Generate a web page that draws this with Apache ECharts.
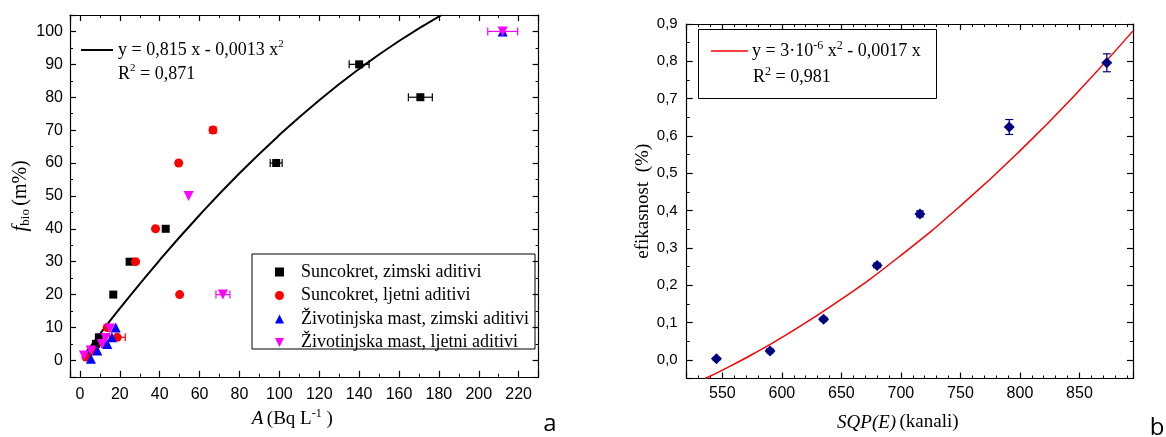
<!DOCTYPE html>
<html>
<head>
<meta charset="utf-8">
<script src="https://cdn.jsdelivr.net/npm/echarts@6/dist/echarts.min.js"></script>
<style>html,body{margin:0;padding:0;background:#fff;}#c{width:1166px;height:437px;}</style>
</head>
<body>
<div id="c"></div>
<script>
// ---------- DATA ----------
// Chart a: A (Bq/L) vs f_bio (m%)
const suncokretZimski = [[4,1.5],[6,3],[8,5],[9.5,7],[16.7,20],[24.9,30],[43,40],[98.4,60],[140,90],[170.7,80]];
const suncokretLjetni = [[3,1],[7,3],[12,5],[18.7,7],[13.7,10],[27.9,30],[37.9,40],[50,20],[49.5,60],[66.7,70]];
const zivotinjskaZimski = [[5.5,0.5],[8.7,3],[13.7,5],[16,7],[17.9,10],[212,100]];
const zivotinjskaLjetni = [[2,1.5],[5.4,3],[11,5],[12.8,6.8],[15,9.7],[54.5,50],[71.7,20],[212,100]];
// horizontal error bars [x, y, halfWidth]
const errSuncokretZimski = [[140,90,5],[170.7,80,6],[98.4,60,3]];
const errSuncokretLjetni = [[18.7,7,4],[66.7,70,1.5]];
const errZivotinjskaLjetni = [[212,100,7.5],[71.7,20,3.5]];
// fitted curve
const fitCurveA = [[3,2.4],[10,8.0],[20,15.8],[40,30.5],[60,44.2],[80,56.9],[100,68.5],[120,79.1],[140,88.6],[160,97.1],[181,104.9]];
const seriesNamesA = ['Suncokret, zimski aditivi','Suncokret, ljetni aditivi','Životinjska mast, zimski aditivi','Životinjska mast, ljetni aditivi'];

// Chart b: SQP(E) vs efikasnost
const sqpE = [545,590,635,680,716,791,873];
const efikasnost = [0.003,0.024,0.109,0.253,0.391,0.624,0.796];
const efikasnostErr = [0.003,0.005,0.005,0.006,0.008,0.02,0.024];
const fitCurveB = [[535.5,-0.05],[550,-0.0275],[575,0.0144],[600,0.06],[650,0.1625],[700,0.28],[750,0.4125],[800,0.56],[850,0.7225],[895,0.8816]];

// ---------- CHART ----------
const chart = echarts.init(document.getElementById('c'), null, {renderer:'canvas'});
const sans = 'Liberation Sans, Arial, sans-serif';
const serif = 'Liberation Serif, Times New Roman, serif';

function near(v, step){ const r = Math.round(v/step); return Math.abs(v/step - r) < 1e-6; }

function axisSet(type, grid, pos, min, max, major, minor, fmt, extra){
  const base = {type:'value', gridIndex:grid, position:pos, min:min, max:max, splitLine:{show:false}, scale:true};
  const maj = Object.assign({}, base, {
    splitNumber: Math.round((max-min)/major), minInterval: major, maxInterval: major,
    axisLine:{show:true, onZero:false, lineStyle:{color:'#000', width:1.2}},
    axisTick:{show:true, inside:true, length:6, lineStyle:{color:'#000', width:1.2}},
    axisLabel:{show: !!fmt, formatter: fmt, color:'#000', fontFamily:sans, fontSize:16, margin: 8}
  }, extra || {});
  const mnr = Object.assign({}, base, {
    splitNumber: Math.round((max-min)/minor), minInterval: minor, maxInterval: minor,
    axisLine:{show:false, onZero:false},
    axisTick:{show:true, inside:true, length:3, lineStyle:{color:'#000', width:1}},
    axisLabel:{show:false}
  });
  return [maj, mnr];
}

const fmtAx = v => (near(v,20) && v>=0 && v<=220) ? String(Math.round(v)) : '';
const fmtAy = v => (near(v,10) && v>=0 && v<=100) ? String(Math.round(v)) : '';
const fmtBx = v => (near(v,50) && v>=550 && v<=850) ? String(Math.round(v)) : '';
const fmtBy = v => { if(!near(v,0.1)) return ''; const r=Math.round(v*10); if(r<0) return ''; return (r/10).toFixed(1).replace('.',','); };

const xAxes = [].concat(
  axisSet('x',0,'bottom',-5,230,20,10,fmtAx,{axisLabel:{show:true,formatter:fmtAx,color:'#000',fontFamily:sans,fontSize:16,margin:10},
     name:'{i|A} {n|(Bq L}{s|-1}{n| )}', nameLocation:'middle', nameGap:28,
     nameTextStyle:{padding:[0,24,0,0], rich:{i:{fontFamily:serif,fontStyle:'italic',fontSize:19,lineHeight:22},n:{fontFamily:serif,fontSize:19,lineHeight:22},s:{fontFamily:serif,fontSize:12,verticalAlign:'top',lineHeight:12}}}}),
  axisSet('x',0,'top',-5,230,20,10,null),
  axisSet('x',1,'bottom',520,895,50,10,fmtBx,{axisLabel:{show:true,formatter:fmtBx,color:'#000',fontFamily:sans,fontSize:16,margin:7},
     name:'{i|SQP(E)} {n|(kanali)}', nameLocation:'middle', nameGap:33,
     nameTextStyle:{padding:[0,24,0,0], rich:{i:{fontFamily:serif,fontStyle:'italic',fontSize:19,lineHeight:22},n:{fontFamily:serif,fontSize:19,lineHeight:22}}}}),
  axisSet('x',1,'top',520,895,50,10,null)
);
const yAxes = [].concat(
  axisSet('y',0,'left',-5,105,10,5,fmtAy,{axisLabel:{show:true,formatter:fmtAy,color:'#000',fontFamily:sans,fontSize:16,margin:7},
     name:'{i|f}{s|bio} {n|(m%)}', nameLocation:'middle', nameGap:27, nameRotate:90,
     nameTextStyle:{rich:{i:{fontFamily:serif,fontStyle:'italic',fontSize:21,lineHeight:24},n:{fontFamily:serif,fontSize:20,lineHeight:24},s:{fontFamily:serif,fontSize:13,verticalAlign:'bottom',lineHeight:13}}}}),
  axisSet('y',0,'right',-5,105,10,5,null),
  axisSet('y',1,'left',-0.05,0.9,0.1,0.05,fmtBy,{axisLabel:{show:true,formatter:fmtBy,color:'#000',fontFamily:sans,fontSize:15,margin:9},
     name:'efikasnost  (%)', nameLocation:'middle', nameGap:27, nameRotate:90,
     nameTextStyle:{fontFamily:serif,fontSize:19,color:'#000'}}),
  axisSet('y',1,'right',-0.05,0.9,0.1,0.05,null)
);

function hErrSeries(data, color){
  return {type:'custom', xAxisIndex:0, yAxisIndex:0, data:data, z:3, silent:true,
    encode:{x:0,y:1},
    renderItem:function(params, api){
      const x=api.value(0), y=api.value(1), e=api.value(2);
      const p1=api.coord([x-e,y]), p2=api.coord([x+e,y]);
      const st={stroke:color, lineWidth:1.2};
      return {type:'group', children:[
        {type:'line', shape:{x1:p1[0],y1:p1[1],x2:p2[0],y2:p2[1]}, style:st},
        {type:'line', shape:{x1:p1[0],y1:p1[1]-4,x2:p1[0],y2:p1[1]+4}, style:st},
        {type:'line', shape:{x1:p2[0],y1:p2[1]-4,x2:p2[0],y2:p2[1]+4}, style:st}
      ]};
    }};
}

const effData = sqpE.map((x,i)=>[x, efikasnost[i]]);
const effErrData = sqpE.map((x,i)=>[x, efikasnost[i], efikasnostErr[i]]);

const option = {
  backgroundColor:'#fff',
  animation:false,
  grid:[
    {left:70, right:1166-538.6, top:15, bottom:437-376.8},
    {left:686.7, right:1166-1133, top:24, bottom:437-380.7}
  ],
  xAxis: xAxes,
  yAxis: yAxes,
  legend:{
    data: [
      {name:seriesNamesA[0], icon:'rect', itemStyle:{color:'#000'}},
      {name:seriesNamesA[1], icon:'circle', itemStyle:{color:'#ff0000'}},
      {name:seriesNamesA[2], icon:'path://M5,0L10,10L0,10Z', itemStyle:{color:'#0000ff'}},
      {name:seriesNamesA[3], icon:'path://M0,0L10,0L5,10Z', itemStyle:{color:'#ff00ff'}}
    ],
    orient:'vertical', left:270, top:258, itemWidth:9, itemHeight:9, itemGap:5.5,
    textStyle:{fontFamily:serif, fontSize:18, lineHeight:17, color:'#000', padding:[0,0,0,12]},
    selectedMode:false
  },
  series:[
    {type:'line', name:'fitA', data:fitCurveA, xAxisIndex:0, yAxisIndex:0, smooth:true, showSymbol:false, symbol:'none',
      lineStyle:{color:'#000', width:2}, z:2, clip:true},
    hErrSeries(errSuncokretZimski,'#000'),
    hErrSeries(errSuncokretLjetni,'#ff0000'),
    hErrSeries(errZivotinjskaLjetni,'#ff00ff'),
    {type:'scatter', name:seriesNamesA[0], data:suncokretZimski, xAxisIndex:0, yAxisIndex:0, symbol:'rect', symbolSize:8, itemStyle:{color:'#000', opacity:1}, z:4},
    {type:'scatter', name:seriesNamesA[1], data:suncokretLjetni, xAxisIndex:0, yAxisIndex:0, symbol:'circle', symbolSize:9, itemStyle:{color:'#ff0000', opacity:1}, z:4},
    {type:'scatter', name:seriesNamesA[2], data:zivotinjskaZimski, xAxisIndex:0, yAxisIndex:0, symbol:'triangle', symbolSize:10, itemStyle:{color:'#0000ff', opacity:1}, z:4},
    {type:'scatter', name:seriesNamesA[3], data:zivotinjskaLjetni, xAxisIndex:0, yAxisIndex:0, symbol:'triangle', symbolRotate:180, symbolSize:10, itemStyle:{color:'#ff00ff', opacity:1}, z:4},
    {type:'line', name:'fitB', data:fitCurveB, xAxisIndex:4, yAxisIndex:4, smooth:true, showSymbol:false, symbol:'none',
      lineStyle:{color:'#ff0000', width:1.5}, z:2, clip:true},
    {type:'custom', xAxisIndex:4, yAxisIndex:4, data:effErrData, z:3, silent:true, encode:{x:0,y:1},
      renderItem:function(params, api){
        const x=api.value(0), y=api.value(1), e=api.value(2);
        const p1=api.coord([x,y-e]), p2=api.coord([x,y+e]);
        const st={stroke:'#000080', lineWidth:1.2};
        return {type:'group', children:[
          {type:'line', shape:{x1:p1[0],y1:p1[1],x2:p2[0],y2:p2[1]}, style:st},
          {type:'line', shape:{x1:p1[0]-4,y1:p1[1],x2:p1[0]+4,y2:p1[1]}, style:st},
          {type:'line', shape:{x1:p2[0]-4,y1:p2[1],x2:p2[0]+4,y2:p2[1]}, style:st}
        ]};
      }},
    {type:'scatter', name:'efikasnost', data:effData, xAxisIndex:4, yAxisIndex:4, symbol:'diamond', symbolSize:11, itemStyle:{color:'#000080', opacity:1}, z:4}
  ],
  graphic:[
    // fit legend, chart a
    {type:'line', shape:{x1:81,y1:50,x2:113,y2:50}, style:{stroke:'#000', lineWidth:2}},
    {type:'text', x:118, y:50, style:{text:'{n|y = 0,815 x - 0,0013 x}{s|2}', verticalAlign:'middle',
      rich:{n:{fontFamily:serif,fontSize:18,lineHeight:22,fill:'#000'}, s:{fontFamily:serif,fontSize:11,lineHeight:11,verticalAlign:'top',fill:'#000'}}}},
    {type:'text', x:118, y:74, style:{text:'{n|R}{s|2}{n| = 0,871}', verticalAlign:'middle',
      rich:{n:{fontFamily:serif,fontSize:18,lineHeight:22,fill:'#000'}, s:{fontFamily:serif,fontSize:11,lineHeight:11,verticalAlign:'top',fill:'#000'}}}},
    // legend box chart a
    {type:'rect', shape:{x:252, y:254, width:283, height:95}, style:{fill:'none', stroke:'#000', lineWidth:1}},
    // fit legend, chart b
    {type:'rect', shape:{x:698.5, y:29.5, width:238, height:69}, style:{fill:'#fff', stroke:'#000', lineWidth:1}, z:10},
    {type:'line', shape:{x1:711,y1:51,x2:748,y2:51}, style:{stroke:'#ff0000', lineWidth:1.5}, z:11},
    {type:'text', x:752, y:51, z:11, style:{text:'{n|y = 3·10}{s|-6}{n| x}{s|2}{n| - 0,0017 x}', verticalAlign:'middle',
      rich:{n:{fontFamily:serif,fontSize:18,lineHeight:22,fill:'#000'}, s:{fontFamily:serif,fontSize:12,lineHeight:12,verticalAlign:'top',fill:'#000'}}}},
    {type:'text', x:753, y:77, z:11, style:{text:'{n|R}{s|2}{n| = 0,981}', verticalAlign:'middle',
      rich:{n:{fontFamily:serif,fontSize:18,lineHeight:22,fill:'#000'}, s:{fontFamily:serif,fontSize:12,lineHeight:12,verticalAlign:'top',fill:'#000'}}}},
    // panel letters
    {type:'text', x:550, y:424, style:{text:'a', fontFamily:'Open Sans, Noto Sans, sans-serif', fontSize:24, fill:'#000', align:'center', verticalAlign:'middle'}},
    {type:'text', x:1157, y:428, style:{text:'b', fontFamily:'Open Sans, Noto Sans, sans-serif', fontSize:24, fill:'#000', align:'center', verticalAlign:'middle'}}
  ]
};
chart.setOption(option);
</script>
</body>
</html>
